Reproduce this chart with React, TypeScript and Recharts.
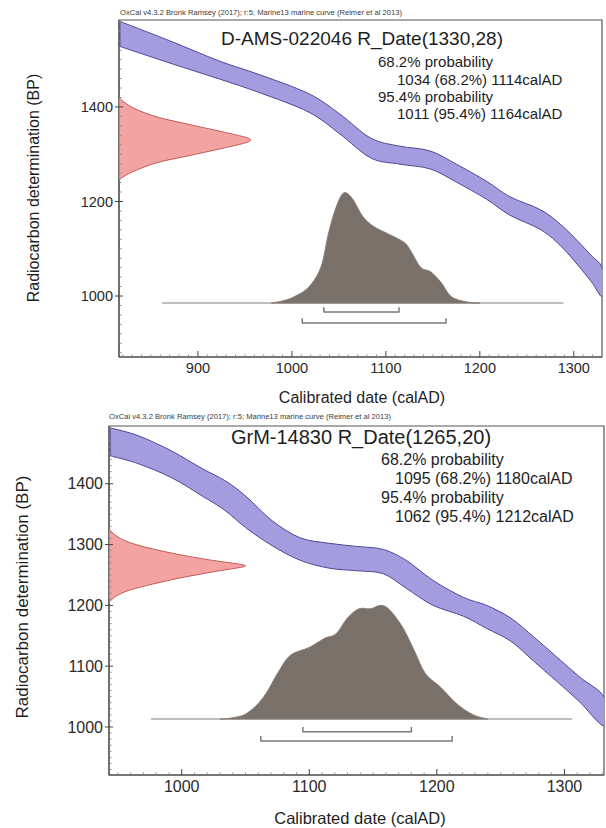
import React from 'react';
import { ComposedChart, Scatter, XAxis, YAxis, ReferenceArea } from 'recharts';

// ---------- Panel 1 data ----------
const p1Header = 'OxCal v4.3.2 Bronk Ramsey (2017); r:5; Marine13 marine curve (Reimer et al 2013)';
const p1Title = 'D-AMS-022046 R_Date(1330,28)';
const p1ProbLines = ['68.2% probability', '1034 (68.2%) 1114calAD', '95.4% probability', '1011 (95.4%) 1164calAD'];
const p1XTicks = [900, 1000, 1100, 1200, 1300];
const p1YTicks = [1000, 1200, 1400];
const p1CurveYears = [817, 870, 923, 966, 1018, 1051, 1084, 1115, 1147, 1175, 1207, 1232, 1265, 1289, 1318, 1330];
const p1CurveUpper = [1581, 1540, 1497, 1468, 1428, 1385, 1334, 1317, 1307, 1279, 1243, 1210, 1182, 1146, 1087, 1059];
const p1CurveLower = [1528, 1493, 1459, 1430, 1389, 1343, 1292, 1279, 1269, 1241, 1205, 1171, 1140, 1100, 1032, 1000];
const p1RDateBP = [1420, 1410, 1395, 1378, 1362, 1346, 1336, 1330, 1324, 1314, 1298, 1283, 1266, 1252, 1245];
const p1RDateProb = [0, 0.04, 0.13, 0.3, 0.55, 0.81, 0.96, 1, 0.96, 0.81, 0.55, 0.3, 0.13, 0.03, 0];
const p1CalYears = [978, 990, 1002, 1018, 1031, 1039, 1047, 1055, 1064, 1076, 1088, 1101, 1119, 1126, 1137, 1148, 1159, 1170, 1187, 1200];
const p1CalProb = [0, 0.02, 0.056, 0.146, 0.33, 0.636, 0.87, 1, 0.953, 0.781, 0.691, 0.635, 0.554, 0.481, 0.326, 0.283, 0.185, 0.056, 0.01, 0];
const p1Range68 = [1034, 1114];
const p1Range95 = [1011, 1164];

// ---------- Panel 2 data ----------
const p2Header = 'OxCal v4.3.2 Bronk Ramsey (2017); r:5; Marine13 marine curve (Reimer et al 2013)';
const p2Title = 'GrM-14830 R_Date(1265,20)';
const p2ProbLines = ['68.2% probability', '1095 (68.2%) 1180calAD', '95.4% probability', '1062 (95.4%) 1212calAD'];
const p2XTicks = [1000, 1100, 1200, 1300];
const p2YTicks = [1000, 1100, 1200, 1300, 1400];
const p2CurveYears = [944, 966, 992, 1016, 1034, 1050, 1071, 1093, 1116, 1137, 1158, 1176, 1197, 1221, 1239, 1258, 1276, 1294, 1312, 1331];
const p2CurveUpper = [1492, 1479, 1454, 1425, 1405, 1380, 1339, 1311, 1302, 1297, 1292, 1274, 1241, 1213, 1200, 1179, 1148, 1115, 1082, 1049];
const p2CurveLower = [1446, 1433, 1410, 1380, 1356, 1328, 1298, 1274, 1261, 1257, 1252, 1228, 1200, 1182, 1162, 1141, 1108, 1075, 1041, 1002];
const p2RDateBP = [1325, 1315, 1305, 1295, 1285, 1275, 1268, 1265, 1262, 1255, 1245, 1235, 1225, 1215, 1205];
const p2RDateProb = [0, 0.05, 0.13, 0.28, 0.48, 0.73, 0.95, 1, 0.95, 0.76, 0.52, 0.32, 0.15, 0.05, 0];
const p2CalYears = [1030, 1039, 1051, 1064, 1075, 1085, 1100, 1112, 1121, 1130, 1139, 1148, 1156, 1163, 1173, 1182, 1191, 1203, 1215, 1228, 1240];
const p2CalProb = [0, 0.01, 0.05, 0.19, 0.4, 0.56, 0.63, 0.71, 0.75, 0.89, 0.97, 0.97, 1, 0.96, 0.81, 0.61, 0.4, 0.28, 0.14, 0.04, 0];
const p2Range68 = [1095, 1180];
const p2Range95 = [1062, 1212];

const xTitle = 'Calibrated date (calAD)';
const yTitle = 'Radiocarbon determination (BP)';

const FONT = '"Liberation Sans", Arial, Helvetica, sans-serif';

type Layout = {
  top: number; height: number;
  margin: { top: number; right: number; bottom: number; left: number };
  xDomain: [number, number]; yDomain: [number, number];
  xMinorStep: number; yMinorStep: number;
  calBase: number; calHeight: number; redWidth: number;
  lineFrom: number; lineTo: number;
  bracket68: number; bracket95: number; bracketTick: number;
  tickFont: number; xTickMargin: number;
  header: { x: number; y: number };
  title: { x: number; y: number; size: number };
  prob: { x1: number; x2: number; ys: number[]; size: number };
  xt: { x: number; y: number; size: number };
  yt: { x: number; y: number; size: number };
};

type Data = {
  header: string; title: string; probLines: string[];
  xTicks: number[]; yTicks: number[];
  curveYears: number[]; curveUpper: number[]; curveLower: number[];
  rBP: number[]; rProb: number[];
  calYears: number[]; calProb: number[];
  r68: number[]; r95: number[];
};

const layout1: Layout = {
  top: 0, height: 410,
  margin: { top: 20, right: 4, bottom: 13, left: 69 },
  xDomain: [816, 1330], yDomain: [871, 1584],
  xMinorStep: 10, yMinorStep: 20,
  calBase: 985, calHeight: 233, redWidth: 140,
  lineFrom: 862, lineTo: 1289,
  bracket68: 966, bracket95: 943, bracketTick: 10,
  tickFont: 14.5, xTickMargin: 2,
  header: { x: 120, y: 13 },
  title: { x: 362, y: 38, size: 19 },
  prob: { x1: 378, x2: 397, ys: [61, 79, 96, 113], size: 15 },
  xt: { x: 362, y: 398, size: 16 },
  yt: { x: 34, y: 188, size: 16 },
};

const layout2: Layout = {
  top: 400, height: 428,
  margin: { top: 26, right: 2, bottom: 13, left: 59 },
  xDomain: [943, 1331], yDomain: [921, 1495],
  xMinorStep: 10, yMinorStep: 10,
  calBase: 1013, calHeight: 187, redWidth: 107,
  lineFrom: 976, lineTo: 1306,
  bracket68: 992, bracket95: 977, bracketTick: 8,
  tickFont: 16, xTickMargin: 5,
  header: { x: 109, y: 417 },
  title: { x: 361, y: 437, size: 20 },
  prob: { x1: 381, x2: 395, ys: [460, 479, 498, 517], size: 16 },
  xt: { x: 360, y: 818, size: 16.5 },
  yt: { x: 22, y: 597, size: 17 },
};

// tick positions (majors are the labelled values, minors are unlabelled marks)
const tickList = (domain: [number, number], step: number) => {
  const out: number[] = [];
  for (let v = Math.ceil(domain[0] / step) * step; v < domain[1]; v += step) out.push(v);
  return out;
};

// path through the points that the Scatter series has placed with its axis scales
const shapePath = (fill: string, stroke: string, width: number, close: boolean, smooth: boolean) => (props: any) => {
  const pts = (props && props.points) || [];
  if (!pts.length) return <g />;
  let d = `M${pts[0].x},${pts[0].y}`;
  for (let i = 0; i < pts.length - 1; i++) {
    const p1 = pts[i];
    const p2 = pts[i + 1];
    if (!smooth) { d += ` L${p2.x},${p2.y}`; continue; }
    const p0 = pts[i - 1] || p1;
    const p3 = pts[i + 2] || p2;
    const c1x = p1.x + (p2.x - p0.x) / 6;
    const c1y = p1.y + (p2.y - p0.y) / 6;
    const c2x = p2.x - (p3.x - p1.x) / 6;
    const c2y = p2.y - (p3.y - p1.y) / 6;
    d += ` C${c1x},${c1y} ${c2x},${c2y} ${p2.x},${p2.y}`;
  }
  if (close) d += ' Z';
  return <path d={d} fill={fill} stroke={stroke} strokeWidth={width} strokeLinejoin="round" />;
};

const noDot = () => <g />;

const makeXTick = (majors: number[], font: number, margin: number) => (props: any) => {
  const { x, y, payload } = props;
  const v = payload.value;
  const major = majors.includes(v);
  const axisY = y - margin;
  return (
    <g>
      <line x1={x} x2={x} y1={axisY} y2={axisY - (major ? 6 : 2.5)} stroke={major ? '#444' : '#888'} strokeWidth={1} />
      {major && (
        <text x={x} y={axisY + 6} dy="0.71em" textAnchor="middle" fontSize={font} fill="#2a2a2a" fontFamily={FONT}>{v}</text>
      )}
    </g>
  );
};

const makeYTick = (majors: number[], font: number, margin: number) => (props: any) => {
  const { x, y, payload } = props;
  const v = payload.value;
  const major = majors.includes(v);
  const axisX = x + margin;
  return (
    <g>
      <line x1={major ? axisX - 4 : axisX} x2={axisX + (major ? 4 : 2.5)} y1={y} y2={y} stroke={major ? '#444' : '#888'} strokeWidth={1} />
      {major && (
        <text x={axisX - 6} y={y} dy="0.355em" textAnchor="end" fontSize={font} fill="#2a2a2a" fontFamily={FONT}>{v}</text>
      )}
    </g>
  );
};

function Panel({ d, l }: { d: Data; l: Layout }) {
  const band = [
    ...d.curveYears.map((x, i) => ({ x, y: d.curveUpper[i] })),
    ...d.curveYears.map((x, i) => ({ x, y: d.curveLower[i] })).reverse(),
  ];
  const red = d.rBP.map((y, i) => ({ x: l.xDomain[0] + d.rProb[i] * l.redWidth, y }));
  const cal = d.calYears.map((x, i) => ({ x, y: l.calBase + d.calProb[i] * l.calHeight }));
  const base = [{ x: l.lineFrom, y: l.calBase }, { x: l.lineTo, y: l.calBase }];
  const br = (r: number[], y: number) => [
    { x: r[0], y: y + l.bracketTick }, { x: r[0], y }, { x: r[1], y }, { x: r[1], y: y + l.bracketTick },
  ];
  const xAll = tickList(l.xDomain, l.xMinorStep);
  const yAll = tickList(l.yDomain, l.yMinorStep);
  const txt: React.CSSProperties = { position: 'absolute', whiteSpace: 'nowrap', lineHeight: 1, color: '#1e1e1e', fontFamily: FONT };
  return (
    <>
      <div style={{ position: 'absolute', left: 0, top: l.top, width: 606, height: l.height }}>
        <ComposedChart width={606} height={l.height} margin={l.margin}>
          <XAxis type="number" dataKey="x" domain={l.xDomain} allowDataOverflow ticks={xAll} interval={0}
            tickSize={0} tickLine={false} tickMargin={l.xTickMargin} tick={makeXTick(d.xTicks, l.tickFont, l.xTickMargin)}
            stroke="#444" height={40} />
          <YAxis type="number" dataKey="y" domain={l.yDomain} allowDataOverflow ticks={yAll} interval={0}
            tickSize={0} tickLine={false} tickMargin={2} tick={makeYTick(d.yTicks, l.tickFont, 2)}
            stroke="#444" width={50} />
          <ReferenceArea x1={l.xDomain[0]} x2={l.xDomain[1]} y1={l.yDomain[0]} y2={l.yDomain[1]}
            fill="none" stroke="#555" strokeWidth={1.2} fillOpacity={0} />
          <Scatter data={band} shape={noDot} line={shapePath('#a39de0', '#4f4796', 1, true, true)} isAnimationActive={false} />
          <Scatter data={red} shape={noDot} line={shapePath('#f4a3a3', '#c25a5a', 1, true, true)} isAnimationActive={false} />
          <Scatter data={base} shape={noDot} line={shapePath('none', '#aaaaaa', 1.5, false, false)} isAnimationActive={false} />
          <Scatter data={cal} shape={noDot} line={shapePath('#797069', '#8a827c', 1, true, true)} isAnimationActive={false} />
          <Scatter data={br(d.r68, l.bracket68)} shape={noDot} line={shapePath('none', '#7a7a7a', 1.5, false, false)} isAnimationActive={false} />
          <Scatter data={br(d.r95, l.bracket95)} shape={noDot} line={shapePath('none', '#7a7a7a', 1.5, false, false)} isAnimationActive={false} />
        </ComposedChart>
      </div>
      <div style={{ ...txt, left: l.header.x, top: l.header.y, fontSize: 7.6, color: '#3a3a3a', transform: 'translateY(-50%)' }}>{d.header}</div>
      <div style={{ ...txt, left: l.title.x, top: l.title.y, fontSize: l.title.size, transform: 'translate(-50%,-50%)' }}>{d.title}</div>
      {d.probLines.map((s, i) => (
        <div key={i} style={{ ...txt, left: i % 2 === 0 ? l.prob.x1 : l.prob.x2, top: l.prob.ys[i], fontSize: l.prob.size, transform: 'translateY(-50%)' }}>{s}</div>
      ))}
      <div style={{ ...txt, left: l.xt.x, top: l.xt.y, fontSize: l.xt.size, transform: 'translate(-50%,-50%)' }}>{xTitle}</div>
      <div style={{ ...txt, left: l.yt.x, top: l.yt.y, fontSize: l.yt.size, transform: 'translate(-50%,-50%) rotate(-90deg)' }}>{yTitle}</div>
    </>
  );
}

const data1: Data = {
  header: p1Header, title: p1Title, probLines: p1ProbLines, xTicks: p1XTicks, yTicks: p1YTicks,
  curveYears: p1CurveYears, curveUpper: p1CurveUpper, curveLower: p1CurveLower,
  rBP: p1RDateBP, rProb: p1RDateProb, calYears: p1CalYears, calProb: p1CalProb, r68: p1Range68, r95: p1Range95,
};
const data2: Data = {
  header: p2Header, title: p2Title, probLines: p2ProbLines, xTicks: p2XTicks, yTicks: p2YTicks,
  curveYears: p2CurveYears, curveUpper: p2CurveUpper, curveLower: p2CurveLower,
  rBP: p2RDateBP, rProb: p2RDateProb, calYears: p2CalYears, calProb: p2CalProb, r68: p2Range68, r95: p2Range95,
};

export default function App() {
  return (
    <div style={{ position: 'absolute', left: 0, top: 0, width: 606, height: 828, background: '#fff', overflow: 'hidden' }}>
      <Panel d={data1} l={layout1} />
      <Panel d={data2} l={layout2} />
    </div>
  );
}
